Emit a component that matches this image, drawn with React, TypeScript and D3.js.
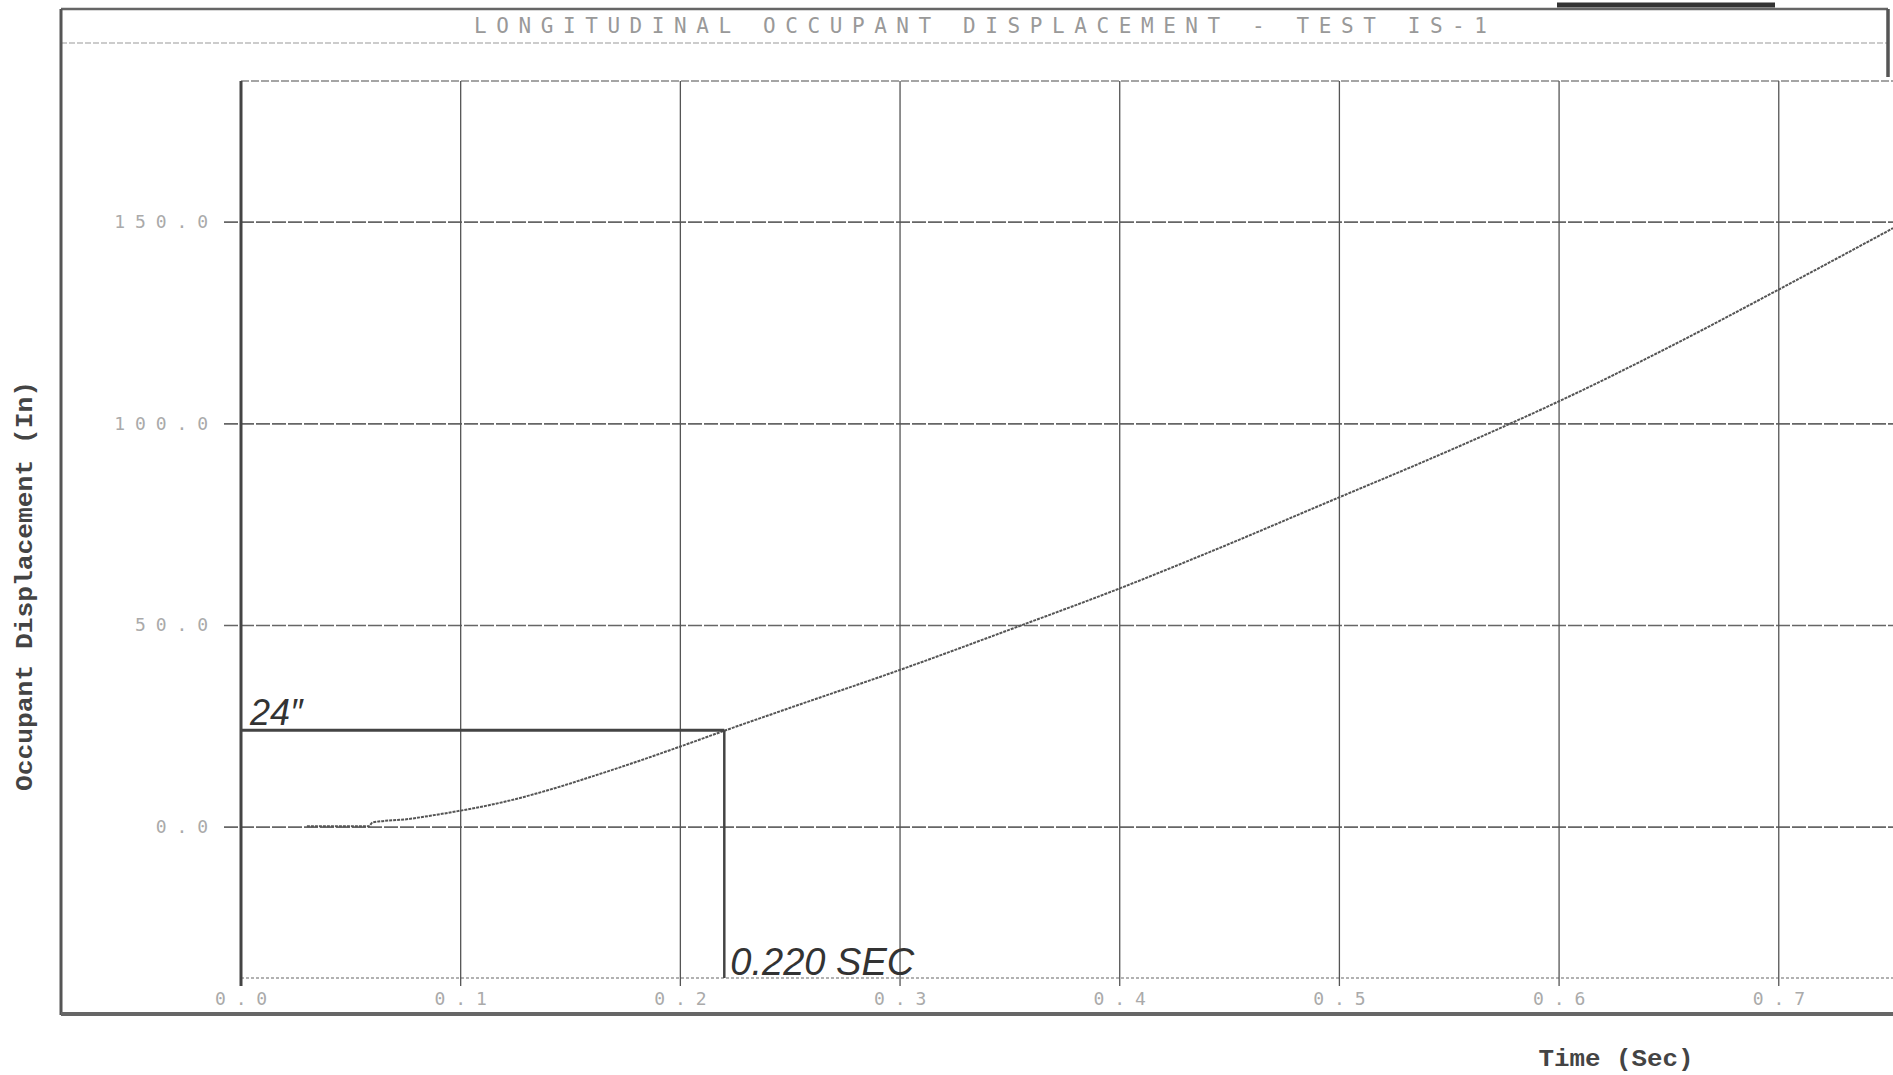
import React from 'react';
import * as d3 from 'd3';

// values
const timeSec = [0.03, 0.058, 0.06, 0.076, 0.087, 0.1, 0.12, 0.14, 0.16, 0.18, 0.2, 0.22, 0.25, 0.3, 0.355, 0.4, 0.44, 0.5, 0.54, 0.58, 0.6, 0.65, 0.7, 0.752];
const displacementIn = [0.2, 0.2, 1.2, 2.0, 2.9, 4.1, 6.3, 9.2, 12.6, 16.2, 20.0, 23.9, 29.6, 39.0, 50.0, 59.2, 68.0, 81.8, 91.0, 100.6, 105.6, 119.0, 133.3, 148.5];
const xTicks = [0, 0.1, 0.2, 0.3, 0.4, 0.5, 0.6, 0.7];
const yTicks = [0, 50, 100, 150];
const markTime = [0.22];
const markDisp = [24];

const W = 1893;
const H = 1075;
const plotLeft = 241;
const plotRight = 1893;
const plotTop = 81;
const plotBottom = 978;
const frameLeft = 61;
const frameRight = 1888;

const App = () => {
  const x = d3.scaleLinear().domain([0, 0.752]).range([plotLeft, plotRight]);
  const y = d3.scaleLinear().domain([-37.4, 185]).range([plotBottom, plotTop]);

  const points = timeSec.map((t, i) => [t, displacementIn[i]] as [number, number]);
  const line = d3
    .line<[number, number]>()
    .x(d => x(d[0]))
    .y(d => y(d[1]))
    .curve(d3.curveMonotoneX);

  const mono = "'DejaVu Sans Mono', monospace";
  const courier = "'Liberation Mono', monospace";
  const italicFont = "'Liberation Sans', Arial, sans-serif";

  const mx = x(markTime[0]);
  const my = y(markDisp[0]);

  return (
    <svg
      width={W}
      height={H}
      style={{ position: 'absolute', left: 0, top: 0, display: 'block', background: '#fff' }}>
      {/* outer frame */}
      <line x1={frameLeft} x2={frameRight} y1={9} y2={9} stroke="#666" strokeWidth={2.5} />
      <line x1={frameLeft} x2={frameRight} y1={43} y2={43} stroke="#999" strokeWidth={1.2} strokeDasharray="6 2" />
      <line x1={frameLeft} x2={frameLeft} y1={9} y2={1015} stroke="#555" strokeWidth={3} />
      <line x1={frameRight} x2={frameRight} y1={9} y2={77} stroke="#555" strokeWidth={3.5} />
      <line x1={frameLeft} x2={W} y1={1014} y2={1014} stroke="#666" strokeWidth={4} />
      <line x1={1557} x2={1775} y1={5} y2={5} stroke="#333" strokeWidth={5} />

      <text
        x={474}
        y={33}
        textLength={1013}
        lengthAdjust="spacing"
        fontFamily={mono}
        fontSize={21}
        fill="#999">
        LONGITUDINAL OCCUPANT DISPLACEMENT - TEST IS-1
      </text>

      {/* plot border */}
      <line x1={plotLeft} x2={W} y1={plotTop} y2={plotTop} stroke="#888" strokeWidth={1.5} strokeDasharray="8 2" />
      <line x1={plotLeft} x2={W} y1={plotBottom} y2={plotBottom} stroke="#999" strokeWidth={1.5} strokeDasharray="3 2" />

      {/* horizontal grid */}
      {yTicks.map(v => (
        <g key={`y${v}`}>
          <line x1={224} x2={W} y1={y(v)} y2={y(v)} stroke="#666" strokeWidth={1.6} strokeDasharray="14 2" />
          <text
            x={218}
            y={y(v) + 6}
            textAnchor="end"
            fontFamily={mono}
            fontSize={18}
            letterSpacing="0.55em"
            fill="#aaa">
            {v.toFixed(1)}
          </text>
        </g>
      ))}

      {/* vertical grid */}
      {xTicks.map(v => (
        <g key={`x${v}`}>
          <line
            x1={x(v)}
            x2={x(v)}
            y1={plotTop}
            y2={plotBottom + 8}
            stroke={v === 0 ? '#444' : '#555'}
            strokeWidth={v === 0 ? 3 : 1.3}
          />
          <text
            x={x(v) + 5}
            y={1005}
            textAnchor="middle"
            fontFamily={mono}
            fontSize={18}
            letterSpacing="0.55em"
            fill="#aaa">
            {v.toFixed(1)}
          </text>
        </g>
      ))}

      {/* data curve */}
      <path d={line(points) || ''} fill="none" stroke="#555" strokeWidth={2} strokeDasharray="3 1" />

      {/* hand-drawn annotation */}
      <line x1={x(0)} x2={mx} y1={my} y2={my} stroke="#444" strokeWidth={3} />
      <line x1={mx} x2={mx} y1={my} y2={plotBottom} stroke="#444" strokeWidth={2.5} />
      <text x={x(0) + 9} y={my - 5} fontFamily={italicFont} fontStyle="italic" fontSize={36} fill="#333">
        24″
      </text>
      <text
        x={mx + 6}
        y={plotBottom - 3}
        textLength={184}
        lengthAdjust="spacingAndGlyphs"
        fontFamily={italicFont}
        fontStyle="italic"
        fontSize={38}
        fill="#333">
        0.220 SEC
      </text>

      {/* axis titles */}
      <text
        transform="translate(32,586) rotate(-90)"
        textAnchor="middle"
        textLength={410}
        lengthAdjust="spacingAndGlyphs"
        fontFamily={courier}
        fontWeight="bold"
        fontSize={23}
        fill="#444">
        Occupant Displacement (In)
      </text>
      <text
        x={1616}
        y={1066}
        textAnchor="middle"
        textLength={155}
        lengthAdjust="spacingAndGlyphs"
        fontFamily={courier}
        fontWeight="bold"
        fontSize={23}
        fill="#444">
        Time (Sec)
      </text>
    </svg>
  );
};

export default App;
